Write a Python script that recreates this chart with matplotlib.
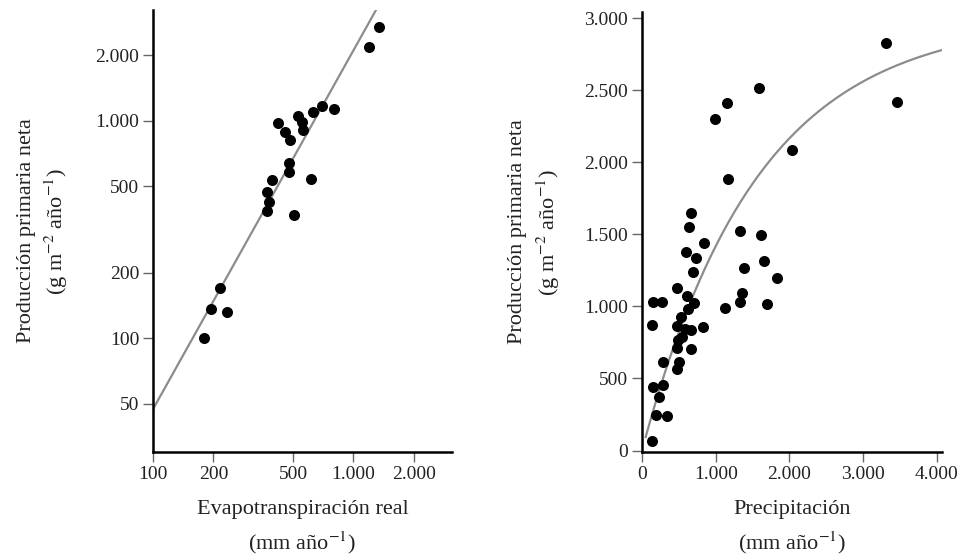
import numpy as np
import matplotlib
matplotlib.use("Agg")
import matplotlib.pyplot as plt

plt.rcParams['font.family'] = ['Liberation Serif', 'DejaVu Serif']
plt.rcParams['mathtext.fontset'] = 'stix'

# --- left panel: evapotranspiration (log-log) ---
aet_mm = [1334, 1189, 700, 631, 804, 531, 556, 562, 422, 457, 484,
          479, 477, 617, 394, 372, 380, 372, 507, 216, 195, 234, 180]
npp_aet = [2698, 2183, 1172, 1100, 1135, 1054, 990, 909, 979, 891, 819,
           641, 580, 542, 536, 472, 425, 383, 367, 171, 137, 132, 100]
aet_fit = (-1.626, 1.65)     # log10(npp) = a + b*log10(aet)
aet_fit_range = (100, 1320)

aet_xticks = [100, 200, 500, 1000, 2000]
aet_xlabels = ["100", "200", "500", "1.000", "2.000"]
aet_yticks = [50, 100, 200, 500, 1000, 2000]
aet_ylabels = ["50", "100", "200", "500", "1.000", "2.000"]

# --- right panel: precipitation (linear) ---
precip_mm = [3311, 3460, 1588, 1153, 991, 2035, 1167, 665, 638, 841, 1330,
             1615, 597, 733, 1655, 1384, 692, 1832, 475, 1357, 611, 706,
             624, 149, 271, 1330, 1126, 1696, 136, 529, 475, 583, 665, 828,
             543, 488, 475, 665, 285, 502, 475, 149, 285, 231, 190, 339, 136]
npp_precip = [2826, 2417, 2514, 2410, 2299, 2084, 1883, 1647, 1550, 1439, 1522,
              1494, 1377, 1335, 1314, 1265, 1238, 1196, 1127, 1092, 1071, 1023,
              981, 1030, 1030, 1030, 988, 1016, 870, 926, 863, 843, 836, 856,
              787, 766, 711, 704, 614, 614, 565, 440, 454, 371, 246, 239, 66]
precip_fit = (3000, 0.00064)  # npp = A * (1 - exp(-k * P))
precip_fit_range = (50, 4070)

precip_xticks = [0, 1000, 2000, 3000, 4000]
precip_xlabels = ["0", "1.000", "2.000", "3.000", "4.000"]
precip_yticks = [0, 500, 1000, 1500, 2000, 2500, 3000]
precip_ylabels = ["0", "500", "1.000", "1.500", "2.000", "2.500", "3.000"]

TEXT = "#222222"
LINE = "#8c8c8c"
FS = 14     # tick labels
LFS = 16    # axis labels


def style_axes(ax):
    for side in ("top", "right"):
        ax.spines[side].set_visible(False)
    for side in ("left", "bottom"):
        ax.spines[side].set_linewidth(1.8)
        ax.spines[side].set_color("black")
    ax.tick_params(which="major", direction="out", length=7, width=1,
                   color="#666666", labelsize=FS, labelcolor=TEXT, pad=3)
    ax.tick_params(which="minor", length=0)


fig = plt.figure(figsize=(9.65, 5.56), dpi=100)
ax1 = fig.add_axes([153 / 965, 104 / 556, 299 / 965, 442 / 556])
ax2 = fig.add_axes([642 / 965, 104 / 556, 300 / 965, 440 / 556])

ylabel_txt = "Producción primaria neta\n(g m$^{-2}$ año$^{-1}$)"

# left
ax1.set_xscale("log")
ax1.set_yscale("log")
xs = np.logspace(np.log10(aet_fit_range[0]), np.log10(aet_fit_range[1]), 50)
ax1.plot(xs, 10 ** (aet_fit[0] + aet_fit[1] * np.log10(xs)), color=LINE, lw=1.6)
ax1.scatter(aet_mm, npp_aet, s=48, color="black", zorder=3, clip_on=False)
ax1.set_xlim(100, 3100)
ax1.set_ylim(30, 3230)
ax1.set_xticks(aet_xticks, aet_xlabels)
ax1.set_yticks(aet_yticks, aet_ylabels)
ax1.set_xlabel("Evapotranspiración real\n(mm año$^{-1}$)", fontsize=LFS,
               color=TEXT, linespacing=1.55, labelpad=12)
ax1.set_ylabel(ylabel_txt, fontsize=LFS, color=TEXT, linespacing=1.35, labelpad=18)
style_axes(ax1)

# right
ps = np.linspace(precip_fit_range[0], precip_fit_range[1], 200)
ax2.plot(ps, precip_fit[0] * (1 - np.exp(-precip_fit[1] * ps)), color=LINE, lw=1.6)
ax2.scatter(precip_mm, npp_precip, s=48, color="black", zorder=3, clip_on=False)
ax2.set_xlim(0, 4070)
ax2.set_ylim(-10, 3042)
ax2.set_xticks(precip_xticks, precip_xlabels)
ax2.set_yticks(precip_yticks, precip_ylabels)
ax2.set_xlabel("Precipitación\n(mm año$^{-1}$)", fontsize=LFS,
               color=TEXT, linespacing=1.55, labelpad=12)
ax2.set_ylabel(ylabel_txt, fontsize=LFS, color=TEXT, linespacing=1.35, labelpad=16)
style_axes(ax2)

fig.savefig("out.png", dpi=100, facecolor="white")
